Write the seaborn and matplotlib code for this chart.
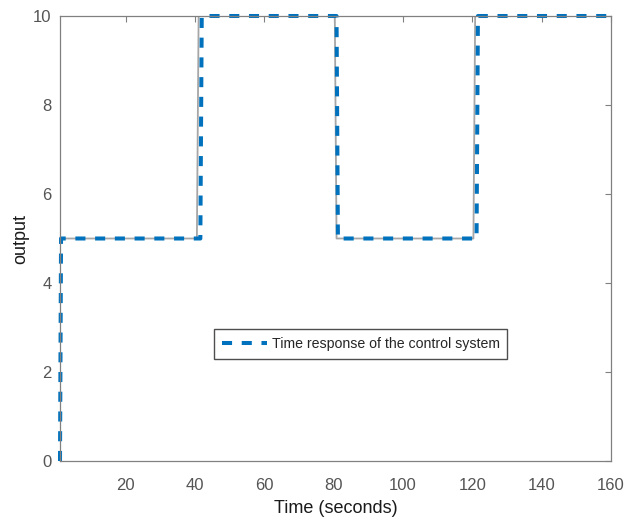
import matplotlib
matplotlib.use("Agg")
import matplotlib.pyplot as plt
import seaborn as sns
import pandas as pd

# Data
ref_time = [1, 40.5, 41, 80.3, 80.8, 120.3, 120.8, 160]
ref_value = [5, 5, 10, 10, 5, 5, 10, 10]
resp_time = [1, 1.3, 41.5, 41.9, 80.8, 81.2, 121.2, 121.6, 160]
resp_value = [0, 5, 5, 10, 10, 5, 5, 10, 10]
x_ticks = [20, 40, 60, 80, 100, 120, 140, 160]
y_ticks = [0, 2, 4, 6, 8, 10]
legend_label = "Time response of the control system"

sns.set_style("white")
plt.rcParams["font.family"] = ["Liberation Sans", "DejaVu Sans"]

fig = plt.figure(figsize=(6.27, 5.25), dpi=100)
ax = fig.add_axes([60/627, (525-461)/525, 551/627, 445/525])

ref_df = pd.DataFrame({"t": ref_time, "y": ref_value})
resp_df = pd.DataFrame({"t": resp_time, "y": resp_value})

sns.lineplot(data=ref_df, x="t", y="y", ax=ax, color="#a6a6a6", linewidth=1.3,
             sort=False, estimator=None, label="_nolegend_")
sns.lineplot(data=resp_df, x="t", y="y", ax=ax, color="#0072BD", linewidth=2.9,
             sort=False, estimator=None, label=legend_label)
for l in ax.lines[1:]:
    l.set_dashes((2.5, 2.4))
    l.set_clip_on(False)

ax.set_xlim(1, 160)
ax.set_ylim(0, 10)
ax.set_xticks(x_ticks)
ax.set_yticks(y_ticks)
ax.tick_params(direction="in", top=True, right=True, length=4, width=0.8,
               colors="#808080", labelsize=12, labelcolor="#555555")
ax.tick_params(axis="x", pad=12)
ax.tick_params(axis="y", pad=6)
for s in ax.spines.values():
    s.set_color("#808080")
    s.set_linewidth(0.9)
ax.set_xlabel("Time (seconds)", fontsize=13, color="#1a1a1a", labelpad=5)
ax.set_ylabel("output", fontsize=13, color="#1a1a1a", labelpad=3)

leg = ax.legend(loc="center", bbox_to_anchor=(0.546, 0.263), frameon=True,
                fancybox=False, fontsize=10.2, handlelength=3.2, handletextpad=0.3,
                borderpad=0.55, borderaxespad=0)
leg.get_frame().set_edgecolor("#222222")
leg.get_frame().set_linewidth(1.0)

fig.savefig("out.png", dpi=100)
